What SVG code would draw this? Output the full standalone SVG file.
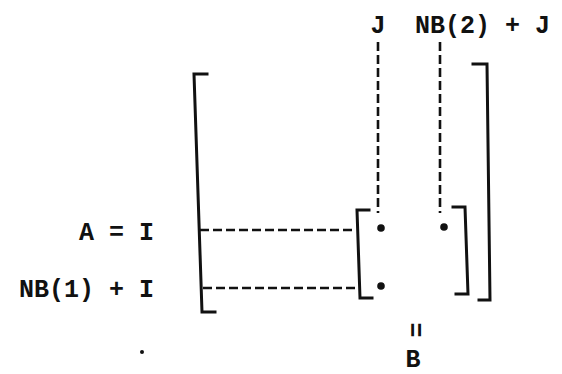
<svg xmlns="http://www.w3.org/2000/svg" width="562" height="374" viewBox="0 0 562 374">
<style>
.t{font-family:"Liberation Mono","DejaVu Sans Mono",monospace;font-size:25px;font-weight:bold;fill:#111}
.br{fill:none;stroke:#111;stroke-width:3;stroke-linejoin:miter;stroke-linecap:square}
.dash{fill:none;stroke:#111;stroke-width:2.6;stroke-dasharray:9 4}
.dot{fill:#111}
</style>
<rect width="562" height="374" fill="#fff"/>
<g id="label-J"><text class="t" x="378" y="33" text-anchor="middle">J</text></g>
<g id="label-NB2J"><text class="t" x="415" y="33">NB(2) + J</text></g>
<g id="label-AI"><text class="t" x="154" y="240" text-anchor="end">A = I</text></g>
<g id="label-NB1I"><text class="t" x="154" y="297" text-anchor="end">NB(1) + I</text></g>
<g id="outer-matrix">
<path class="br" d="M207,74 L194,74 L202,312 L215,312"/>
<path class="br" d="M473,64 L487,64 L490,300 L479,300"/>
</g>
<g id="B-matrix">
<path class="br" d="M369,210 L357,210 L360,298 L372,298"/>
<path class="br" d="M453,207 L465,207 L468,294 L456,294"/>
<circle class="dot" cx="381" cy="228" r="3.8"/>
<circle class="dot" cx="444" cy="227" r="3.8"/>
<circle class="dot" cx="381" cy="286" r="3.8"/>
</g>
<g id="connectors">
<path class="dash" d="M200,230 H355"/>
<path class="dash" d="M203,288 H358"/>
<path class="dash" d="M378,42 V213"/>
<path class="dash" d="M440,42 V213"/>
</g>
<g id="equals"><text class="t" transform="translate(413,330) rotate(90)" x="0" y="0" text-anchor="middle" dominant-baseline="central" font-size="30">=</text></g>
<g id="label-B"><text class="t" x="413" y="367" text-anchor="middle">B</text></g>
<g id="stray-dot"><circle class="dot" cx="142" cy="352" r="2"/></g>
</svg>
